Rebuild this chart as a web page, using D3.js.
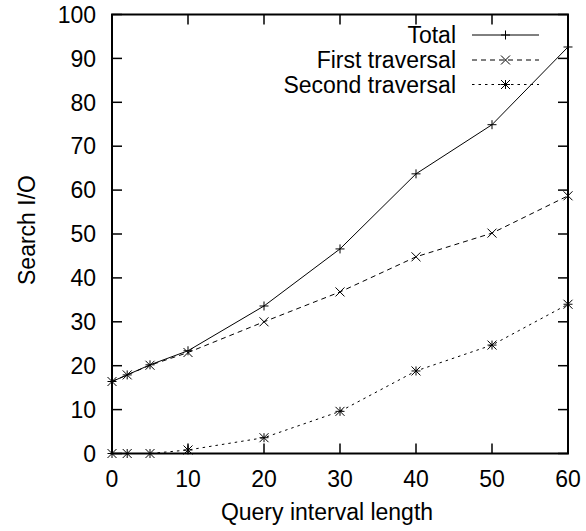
<!DOCTYPE html>
<html>
<head>
<meta charset="utf-8">
<script src="https://cdn.jsdelivr.net/npm/d3@7.9.0/dist/d3.min.js"></script>
<style>
  html, body { margin: 0; padding: 0; background: #fff; }
  svg text { font-family: "Liberation Sans", Arial, sans-serif; fill: #000; }
</style>
</head>
<body>
<svg id="chart" width="586" height="531"></svg>
<script>
const queryLength = [0, 2, 5, 10, 20, 30, 40, 50, 60];
const totalIO = [16.4, 17.9, 20.2, 23.4, 33.6, 46.6, 63.7, 74.9, 92.6];
const firstIO = [16.4, 17.9, 20.1, 23.0, 30.0, 36.8, 44.8, 50.2, 58.7];
const secondIO = [0, 0, 0, 0.8, 3.6, 9.6, 18.8, 24.7, 34.0];
const xTicks = [0, 10, 20, 30, 40, 50, 60];
const yTicks = [0, 10, 20, 30, 40, 50, 60, 70, 80, 90, 100];

const seriesNames = ['Total', 'First traversal', 'Second traversal'];
const seriesValues = [totalIO, firstIO, secondIO];
const seriesDash = [null, '5,4', '2.5,4'];
const seriesMarker = ['plus', 'cross', 'star'];

const plotLeft = 112, plotRight = 568, plotTop = 14.5, plotBottom = 453.5;
const fontSize = 23;

const svg = d3.select('#chart');

const x = d3.scaleLinear().domain([0, 60]).range([plotLeft, plotRight]);
const y = d3.scaleLinear().domain([0, 100]).range([plotBottom, plotTop]);

// tick marks on all four sides, pointing inward
const tickLen = 10;
const ticks = svg.append('g').attr('stroke', '#000').attr('stroke-width', 1.5);
xTicks.forEach(t => {
    ticks.append('line').attr('x1', x(t)).attr('x2', x(t)).attr('y1', plotBottom).attr('y2', plotBottom - tickLen);
    ticks.append('line').attr('x1', x(t)).attr('x2', x(t)).attr('y1', plotTop).attr('y2', plotTop + tickLen);
});
yTicks.forEach(t => {
    ticks.append('line').attr('x1', plotLeft).attr('x2', plotLeft + tickLen).attr('y1', y(t)).attr('y2', y(t));
    ticks.append('line').attr('x1', plotRight).attr('x2', plotRight - tickLen).attr('y1', y(t)).attr('y2', y(t));
});

svg.append('g')
    .selectAll('text')
    .data(xTicks)
    .join('text')
    .attr('x', d => x(d))
    .attr('y', 487)
    .attr('text-anchor', 'middle')
    .attr('font-size', fontSize)
    .text(d => d);

svg.append('g')
    .selectAll('text')
    .data(yTicks)
    .join('text')
    .attr('x', 96)
    .attr('y', d => y(d))
    .attr('dy', '0.36em')
    .attr('text-anchor', 'end')
    .attr('font-size', fontSize)
    .text(d => d);

svg.append('text')
    .attr('x', 327)
    .attr('y', 520)
    .attr('text-anchor', 'middle')
    .attr('font-size', fontSize)
    .text('Query interval length');

svg.append('text')
    .attr('transform', 'translate(35,230) rotate(-90)')
    .attr('text-anchor', 'middle')
    .attr('font-size', fontSize)
    .text('Search I/O');

function drawMarker(g, type, cx, cy) {
    const s = 4.5;
    const p = g.append('g').attr('stroke', '#000').attr('stroke-width', 1);
    if (type === 'plus' || type === 'star') {
        p.append('line').attr('x1', cx - s).attr('x2', cx + s).attr('y1', cy).attr('y2', cy);
        p.append('line').attr('x1', cx).attr('x2', cx).attr('y1', cy - s).attr('y2', cy + s);
    }
    if (type === 'cross' || type === 'star') {
        p.append('line').attr('x1', cx - s).attr('x2', cx + s).attr('y1', cy - s).attr('y2', cy + s);
        p.append('line').attr('x1', cx - s).attr('x2', cx + s).attr('y1', cy + s).attr('y2', cy - s);
    }
}

const line = d3.line()
    .x((d, i) => x(queryLength[i]))
    .y(d => y(d));

seriesValues.forEach((vals, k) => {
    const g = svg.append('g');
    g.append('path')
        .attr('d', line(vals))
        .attr('fill', 'none')
        .attr('stroke', '#000')
        .attr('stroke-width', 1)
        .attr('stroke-dasharray', seriesDash[k]);
    vals.forEach((v, i) => drawMarker(g, seriesMarker[k], x(queryLength[i]), y(v)));
});

// legend
const legendY = [35, 60, 84.5];
seriesNames.forEach((name, k) => {
    const g = svg.append('g');
    g.append('text')
        .attr('x', 456)
        .attr('y', legendY[k])
        .attr('dy', '0.36em')
        .attr('text-anchor', 'end')
        .attr('font-size', fontSize)
        .text(name);
    g.append('line')
        .attr('x1', 472).attr('x2', 539)
        .attr('y1', legendY[k]).attr('y2', legendY[k])
        .attr('stroke', '#000')
        .attr('stroke-width', 1)
        .attr('stroke-dasharray', seriesDash[k]);
    drawMarker(g, seriesMarker[k], 505.5, legendY[k]);
});

// border
svg.append('rect')
    .attr('x', plotLeft).attr('y', plotTop)
    .attr('width', plotRight - plotLeft).attr('height', plotBottom - plotTop)
    .attr('fill', 'none')
    .attr('stroke', '#000')
    .attr('stroke-width', 2);
</script>
</body>
</html>
